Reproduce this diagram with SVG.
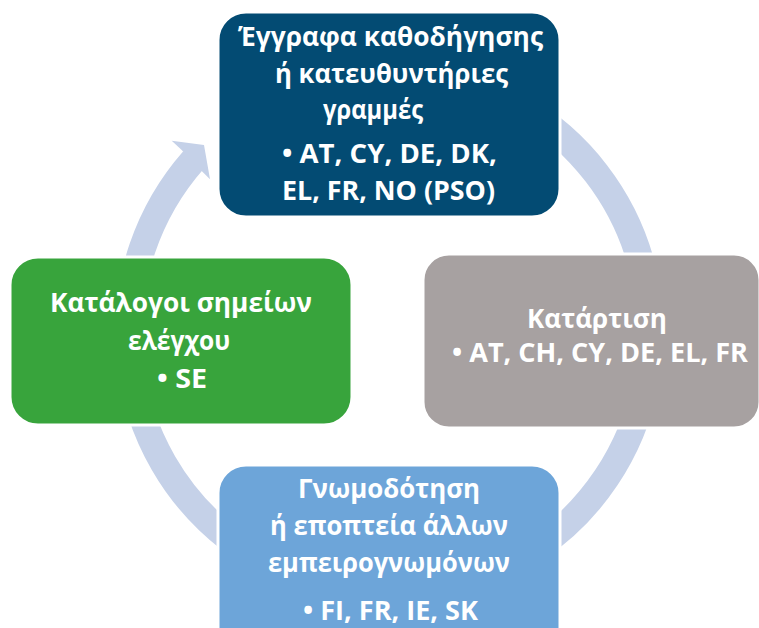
<svg xmlns="http://www.w3.org/2000/svg" width="759" height="628" viewBox="0 0 759 628">
<style>
.box{stroke:#ffffff;stroke-width:3}
.t{font-family:"Open Sans","Noto Sans","DejaVu Sans",sans-serif;font-weight:700;font-size:27.5px;fill:#ffffff;text-anchor:middle}
.ring{fill:none;stroke:#C5D1E8;stroke-width:27}
</style>
<rect x="0" y="0" width="759" height="628" fill="#ffffff"/>
<g id="connectors">
<path class="ring" d="M520,106.5 A261,261 0 1 1 193.4,160.2"/>
<polygon points="181.7,150 171.7,140.7 204,145 210,179.3 200.7,170 195,165" fill="#C5D1E8"/>
</g>
<g id="node-guidance">
<rect class="box" x="218" y="12" width="342" height="205" rx="28" fill="#034B73"/>
<text class="t" x="390.5" y="46" textLength="305" lengthAdjust="spacingAndGlyphs">Έγγραφα καθοδήγησης</text>
<text class="t" x="391.5" y="83" textLength="233" lengthAdjust="spacingAndGlyphs">ή κατευθυντήριες</text>
<text class="t" x="373" y="119" textLength="100" lengthAdjust="spacingAndGlyphs">γραμμές</text>
<text class="t" x="389.5" y="163" textLength="215" lengthAdjust="spacingAndGlyphs">• AT, CY, DE, DK,</text>
<text class="t" x="388.5" y="200" textLength="213" lengthAdjust="spacingAndGlyphs">EL, FR, NO (PSO)</text>
</g>
<g id="node-training">
<rect class="box" x="423" y="254" width="337" height="174" rx="26" fill="#A7A1A1"/>
<text class="t" x="597" y="328" textLength="140" lengthAdjust="spacingAndGlyphs">Κατάρτιση</text>
<text class="t" x="600" y="362" textLength="296" lengthAdjust="spacingAndGlyphs">• AT, CH, CY, DE, EL, FR</text>
</g>
<g id="node-opinion">
<rect class="box" x="218" y="465" width="342" height="200" rx="28" fill="#6DA5D9"/>
<text class="t" x="389" y="498" textLength="182" lengthAdjust="spacingAndGlyphs">Γνωμοδότηση</text>
<text class="t" x="389" y="535" textLength="238" lengthAdjust="spacingAndGlyphs">ή εποπτεία άλλων</text>
<text class="t" x="389" y="572" textLength="242" lengthAdjust="spacingAndGlyphs">εμπειρογνωμόνων</text>
<text class="t" x="390.5" y="620" textLength="175" lengthAdjust="spacingAndGlyphs">• FI, FR, IE, SK</text>
</g>
<g id="node-checklists">
<rect class="box" x="10" y="257" width="342" height="168" rx="28" fill="#38A43C"/>
<text class="t" x="181" y="312" textLength="262" lengthAdjust="spacingAndGlyphs">Κατάλογοι σημείων</text>
<text class="t" x="179" y="350" textLength="102" lengthAdjust="spacingAndGlyphs">ελέγχου</text>
<text class="t" x="182" y="388" textLength="50" lengthAdjust="spacingAndGlyphs">• SE</text>
</g>
</svg>
